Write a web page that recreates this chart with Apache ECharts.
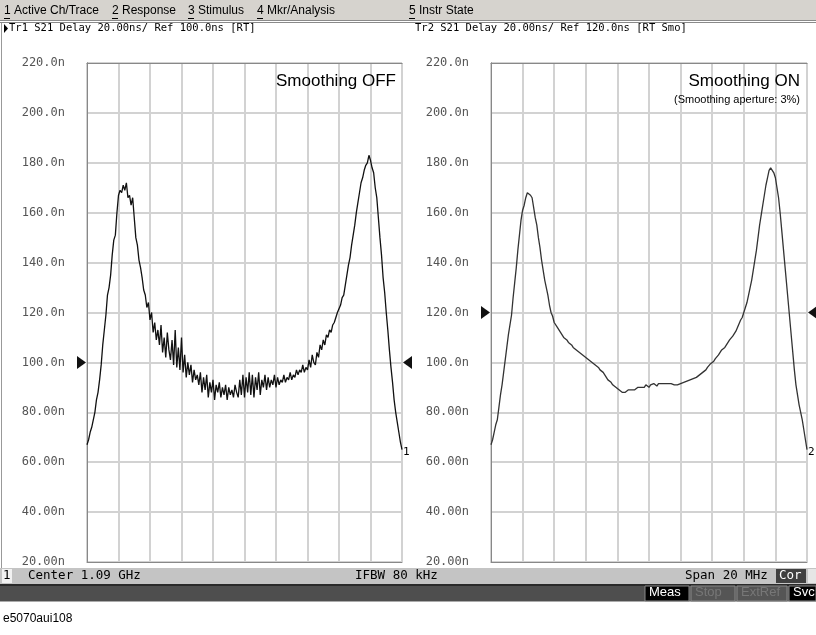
<!DOCTYPE html>
<html><head><meta charset="utf-8">
<script src="https://cdn.jsdelivr.net/npm/echarts@6/dist/echarts.min.js"></script>
<style>html,body{margin:0;padding:0;background:#fff}#c{width:816px;height:635px}</style>
</head><body><div id="c"></div>
<script>
// Tick values (ns)
const yTicks = [20,40,60,80,100,120,140,160,180,200,220];
// Trace 1: Smoothing OFF (201 points, ns)
const trace1 = [67,69,72,74,77,80,85,88,93,99,107,113,119,127,130,135,143,149,151,160,
167,169,168,171,169,172,166,167,163,166,158,150,147,141,138,134,129,127,122,124,
117,120,112,116,109,113,107,115,104,110,102,112,105,101,109,99,113,98,106,97,
110,96,103,94,100,95,99,92,97,93,95,91,96,88,94,89,95,86,92,88,
93,85,91,88,92,86,90,87,91,85,90,87,89,86,91,88,86,93,87,95,
86,94,88,96,87,95,86,94,89,96,87,93,90,95,89,94,90,93,91,95,
90,94,91,93,92,95,92,94,93,96,93,95,94,97,95,97,96,99,96,98,
97,101,98,103,100,99,104,102,107,105,109,107,111,110,113,112,115,116,118,120,
120,123,126,127,131,135,139,142,147,151,155,160,164,168,172,174,177,179,180,183,
181,178,176,170,166,158,150,143,134,128,120,113,105,98,92,85,80,76,72,68,65];
// Trace 2: Smoothing ON, aperture 3% (201 points, ns)
const trace2 = [67,69,72,75,77,82,87,91,96,101,106,111,115,119,126,132,138,145,151,157,
161,163,166,168,168,167,166,162,158,155,150,146,141,137,133,130,127,123,120,118.5,
116,115.5,114,113.5,112,111.5,110,110.5,109,108,107.5,107,106,106.5,105,105.5,104,104.5,103,103.5,
102,102.5,101,101.5,100,100.5,99,99.5,98,97,96.5,96,95,94.5,93,93.5,92,91,91.5,90,
90,89,88.5,88,88.5,88,88.5,89,88.5,89,89.5,89,89.5,90,89.5,90,90.5,90,91,90.5,
90,91,90.5,91.5,91,90.5,91.5,91,91.5,91,91.5,91,91.5,91,91.5,91,91,91.5,91,91.5,
91.5,92,92,92,92.5,92.5,93,93,93.5,94,94,94.5,95,95.5,96,96.5,97,98,98.5,99.5,
100,100.5,101.5,102,103,104,105,105.5,106,107,108,109,109.5,110.5,111.5,112.5,114,115.5,117,118,
120,122,124,127,130,133,137,141,145,150,155,159,163,167,171,174,177,178,178,176,
174,170,166,160,153,146,139,132,125,118,111,104,97,91,87,83,80,77,73,69,65];
const traceLabels = ['Tr1 S21 Delay 20.00ns/ Ref 100.0ns [RT]', 'Tr2 S21 Delay 20.00ns/ Ref 120.0ns [RT Smo]'];
const refValues = [100, 120];
const menuItems = [['1',' Active Ch/Trace'],['2',' Response'],['3',' Stimulus'],['4',' Mkr/Analysis'],['5',' Instr State']];

const chart = echarts.init(document.getElementById('c'));
const mono = 'DejaVu Sans Mono';
const sans = 'Liberation Sans, Arial';
function fmtY(v){ return v >= 100 ? v.toFixed(1)+'n' : v.toFixed(2)+'n'; }
const grids = [
  {left: 87, top: 63, width: 315, height: 499},
  {left: 491, top: 63, width: 316, height: 499}
];
const xAxes = grids.map((g,k)=>({gridIndex:k, type:'value', min:0, max:200, interval:20,
  axisLabel:{show:false}, axisTick:{show:false},
  axisLine:{show:true, onZero:false, lineStyle:{color:'#888', width:1}},
  splitLine:{show:true, lineStyle:{color:'#d2d2d2', width:2}}}));
const xAxesTop = grids.map((g,k)=>({gridIndex:k, type:'value', position:'top', min:0, max:200,
  axisLabel:{show:false}, axisTick:{show:false}, splitLine:{show:false},
  axisLine:{show:true, lineStyle:{color:'#888', width:1}}}));
const yAxes = grids.map((g,k)=>({gridIndex:k, type:'value', min:yTicks[0], max:yTicks[yTicks.length-1], interval:20,
  axisLabel:{color:'#555', fontFamily:mono, fontSize:12, margin:22, formatter:fmtY},
  axisTick:{show:false},
  axisLine:{show:true, lineStyle:{color:'#888', width:1}},
  splitLine:{show:true, lineStyle:{color:'#d2d2d2', width:2}}}));
const yAxesRight = grids.map((g,k)=>({gridIndex:k, type:'value', position:'right', min:20, max:220,
  axisLabel:{show:false}, axisTick:{show:false}, splitLine:{show:false},
  axisLine:{show:true, lineStyle:{color:'#888', width:1}}}));

function mkSeries(data, k, label){
  return {type:'line', xAxisIndex:k, yAxisIndex:k, data:data.map((v,i)=>[i,v]),
    showSymbol:false, symbol:'none', animation:false, z:3,
    lineStyle:{color: k===0 ? '#111' : '#333', width:1.3},
    endLabel:{show:true, formatter:label, color:'#000', fontFamily:mono, fontSize:11, distance:1, offset:[0,2]},
    markPoint:{silent:true, animation:false, label:{show:false},
      data:[
        {coord:[0, refValues[k]], symbol:'triangle', symbolSize:[13,9], symbolRotate:-90, symbolOffset:[-5.5,0], itemStyle:{color:'#111'}},
        {coord:[200, refValues[k]], symbol:'triangle', symbolSize:[13,9], symbolRotate:90, symbolOffset:[5.5,0], itemStyle:{color:'#111'}}
      ]}
  };
}

const graphics = [];
// top menu bar
graphics.push({type:'rect', shape:{x:0,y:0,width:816,height:20}, style:{fill:'#d6d3ce'}});
graphics.push({type:'rect', shape:{x:0,y:20,width:816,height:1}, style:{fill:'#8a8a8a'}});
graphics.push({type:'rect', shape:{x:0,y:22,width:816,height:1}, style:{fill:'#8a8a8a'}});
const menuX = [4, 112, 188, 257, 409];
menuItems.forEach((m,i)=>{
  graphics.push({type:'text', x:menuX[i], y:5, style:{text:m[0]+m[1], font:'12px '+sans, fill:'#000'}});
  graphics.push({type:'rect', shape:{x:menuX[i],y:18,width:6,height:1}, style:{fill:'#000'}});
});
// left frame line
graphics.push({type:'rect', shape:{x:1,y:23,width:1,height:545}, style:{fill:'#999'}});
// headers
graphics.push({type:'polygon', shape:{points:[[4,24],[4,33],[8,28.5]]}, style:{fill:'#000'}});
graphics.push({type:'text', x:9, y:23, style:{text:traceLabels[0], font:'10.5px '+mono, fill:'#000'}});
graphics.push({type:'text', x:415, y:23, style:{text:traceLabels[1], font:'10.5px '+mono, fill:'#000'}});
// annotation text
graphics.push({type:'text', x:396, y:73, style:{text:'Smoothing OFF', font:'17px '+sans, fill:'#000', align:'right'}});
graphics.push({type:'text', x:800, y:73, style:{text:'Smoothing ON', font:'17px '+sans, fill:'#000', align:'right'}});
graphics.push({type:'text', x:800, y:94, style:{text:'(Smoothing aperture: 3%)', font:'11px '+sans, fill:'#000', align:'right'}});
// status bar
graphics.push({type:'rect', shape:{x:0,y:568,width:816,height:16}, style:{fill:'#c4c4c4'}});
graphics.push({type:'rect', shape:{x:2,y:569,width:10,height:14}, style:{fill:'#f2f2f2'}});
graphics.push({type:'text', x:3, y:569, style:{text:'1', font:'12.5px '+mono, fill:'#000'}});
graphics.push({type:'text', x:28, y:569, style:{text:'Center 1.09 GHz', font:'12.5px '+mono, fill:'#000'}});
graphics.push({type:'text', x:355, y:569, style:{text:'IFBW 80 kHz', font:'12.5px '+mono, fill:'#000'}});
graphics.push({type:'text', x:685, y:569, style:{text:'Span 20 MHz', font:'12.5px '+mono, fill:'#000'}});
graphics.push({type:'rect', shape:{x:776,y:569,width:30,height:14}, style:{fill:'#404040'}});
graphics.push({type:'text', x:779, y:569, style:{text:'Cor', font:'12.5px '+mono, fill:'#fff'}});
graphics.push({type:'rect', shape:{x:808,y:569,width:8,height:14}, style:{fill:'#e6e6e6'}});
// dark bar
graphics.push({type:'rect', shape:{x:0,y:584,width:816,height:2}, style:{fill:'#2a2a2a'}});
graphics.push({type:'rect', shape:{x:0,y:586,width:816,height:15}, style:{fill:'#4e4e4e'}});
graphics.push({type:'rect', shape:{x:0,y:601,width:816,height:1}, style:{fill:'#aaa'}});
const btns = [['Meas',645,689,'#fff','#000'],['Stop',691,735,'#777','#555'],['ExtRef',737,787,'#777','#555'],['Svc',789,816,'#fff','#000']];
btns.forEach(b=>{
  graphics.push({type:'rect', shape:{x:b[1],y:586,width:b[2]-b[1],height:15}, style:{fill:b[4], stroke:'#888', lineWidth:1}});
  graphics.push({type:'text', x:b[1]+4, y:586, style:{text:b[0], font:'13px '+sans, fill:b[3]}});
});
graphics.push({type:'text', x:3, y:613, style:{text:'e5070aui108', font:'12px '+sans, fill:'#000'}});
graphics.forEach(g=>{ g.z = 100; });

chart.setOption({
  animation:false,
  backgroundColor:'#fff',
  grid: grids,
  xAxis: xAxes.concat(xAxesTop),
  yAxis: yAxes.concat(yAxesRight),
  series: [mkSeries(trace1,0,'1'), mkSeries(trace2,1,'2')],
  graphic: graphics
});
</script></body></html>
